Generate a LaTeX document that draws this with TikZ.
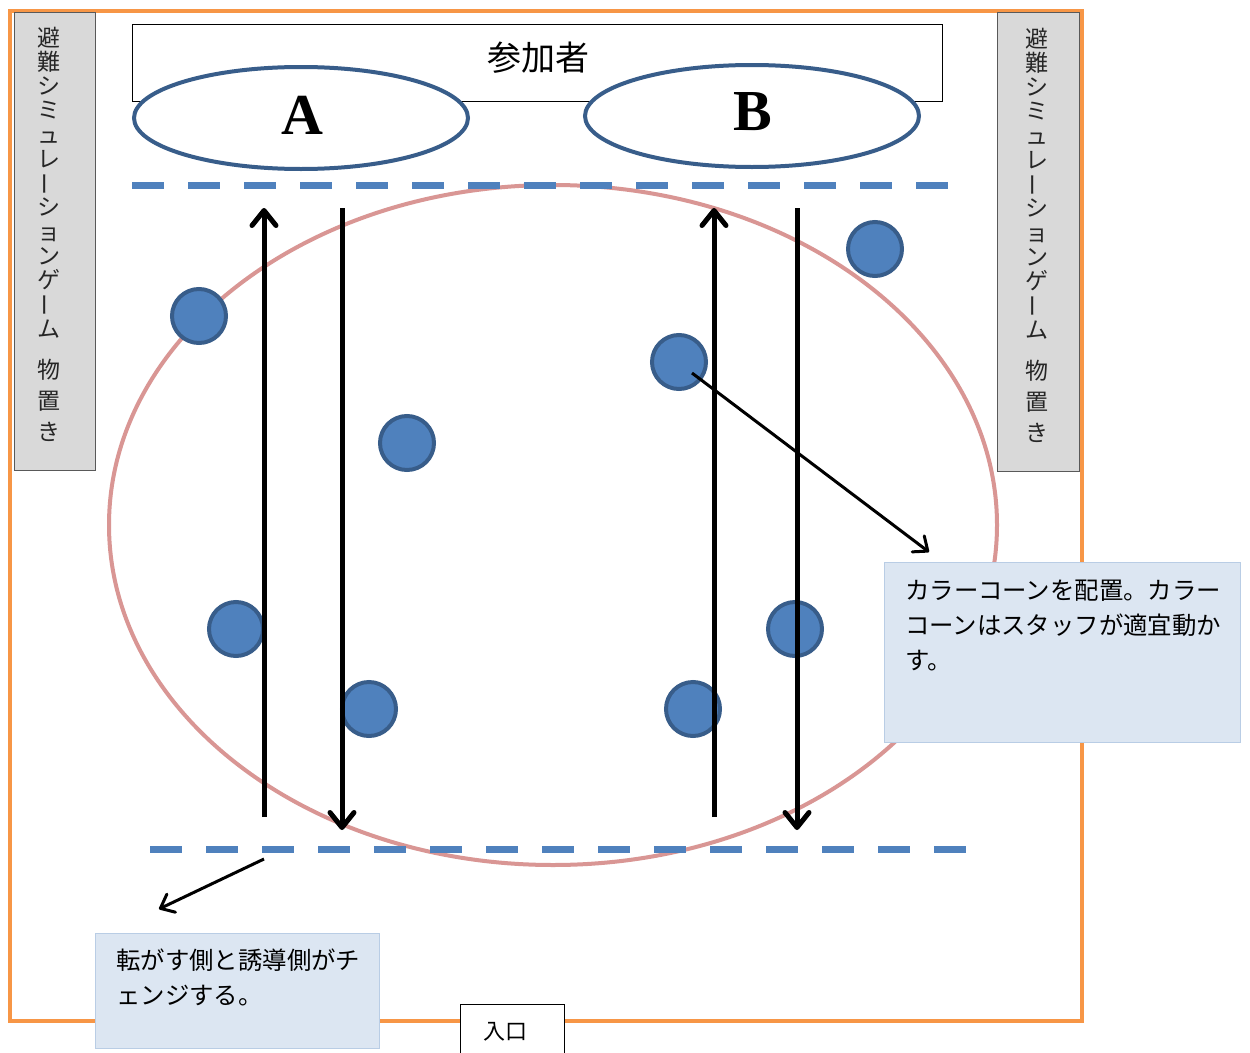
\documentclass[tikz,border=0pt]{standalone}
\usepackage{fontspec}
\usepackage{graphicx}
\usetikzlibrary{arrows.meta,shapes.geometric}
\newfontfamily\jpfont{Noto Sans CJK JP}
\newfontfamily\latinserif{Liberation Serif}
\definecolor{frameorange}{HTML}{F79646}
\definecolor{panelgrey}{HTML}{D9D9D9}
\definecolor{panelline}{HTML}{595959}
\definecolor{teamblue}{HTML}{385D8A}
\definecolor{coneblue}{HTML}{4F81BD}
\definecolor{fieldpink}{HTML}{D99694}
\definecolor{notefill}{HTML}{DCE6F2}
\definecolor{noteline}{HTML}{B9CDE5}
\newcommand\vchouon{\raisebox{0.12em}{\rotatebox[origin=c]{90}{ー}}}
\newcommand\storagelabel{避\\難\\シ\\ミ\\ュ\\レ\\\vchouon\\シ\\ョ\\ン\\ゲ\\\vchouon\\ム\\[16.75pt]物\\[6.75pt]置\\[6.75pt]き}
\begin{document}
\begin{tikzpicture}[x=1pt,y=-1pt,
  hallframe/.style={draw=frameorange,line width=4pt,inner sep=0},
  storepanel/.style={draw=panelline,fill=panelgrey,line width=1pt,inner sep=0},
  vtext/.style={font=\jpfont\fontsize{23}{24.25}\selectfont,align=center,inner sep=0,text=black!85,anchor=base},
  teamoval/.style={ellipse,draw=teamblue,fill=white,line width=4pt,minimum width=334pt,minimum height=102pt,inner sep=0},
  teamletter/.style={font=\latinserif\bfseries\fontsize{58}{58}\selectfont,inner sep=0},
  fieldoval/.style={ellipse,draw=fieldpink,line width=4pt,minimum width=888pt,minimum height=680pt,inner sep=0},
  conedot/.style={circle,draw=teamblue,fill=coneblue,line width=4pt,minimum size=54pt,inner sep=0},
  startline/.style={draw=coneblue,line width=7pt,dash pattern=on 32pt off 24pt},
  runarrow/.style={line width=5pt,-{Straight Barb[length=15pt,width=24pt,line cap=round,line join=round]}},
  notearrow/.style={line width=3pt,-{Straight Barb[length=12pt,width=20pt,line cap=round,line join=round]}},
  notebox/.style={draw=noteline,fill=notefill,line width=1pt,inner sep=0},
  notetext/.style={font=\jpfont\fontsize{24.4}{35}\selectfont,align=left,inner sep=0,anchor=base west},
  plainbox/.style={draw=black,fill=white,line width=0.8pt,inner sep=0}]
\useasboundingbox (0,0) rectangle (1250,1052);
\fill[white] (0,0) rectangle (1250,1052);

% hall outline
\node[hallframe,minimum width=1072pt,minimum height=1010pt] (hall) at (546,516) {};

% storage panels
\node[storepanel,minimum width=81pt,minimum height=458pt] (storeL) at (54.5,241) {};
\node[vtext] (storeLtext) at (49,440) {\storagelabel};
\node[storepanel,minimum width=82pt,minimum height=459pt] (storeR) at (1038,241.5) {};
\node[vtext] (storeRtext) at (1037,441) {\storagelabel};

% participants
\node[plainbox,minimum width=810pt,minimum height=77pt] (players) at (537,62.5) {};
\node[font=\jpfont\fontsize{34}{34}\selectfont,inner sep=0] (playerstext) at (538,58) {参加者};
\node[teamoval] (teamA) at (301,118) {};
\node[teamoval] (teamB) at (752,116) {};
\node[teamletter] (teamAlabel) at (302,115) {A};
\node[teamletter] (teamBlabel) at (753,112) {B};

% field
\node[fieldoval] (field) at (553,525) {};

% start / turn lines
\coordinate (topL) at (132,185);
\coordinate (topR) at (950,185);
\coordinate (botL) at (150,849);
\coordinate (botR) at (968,849);
\draw[startline] (topL) -- (topR);
\draw[startline] (botL) -- (botR);

% colour cones
\node[conedot] (c1) at (199,316) {};
\node[conedot] (c2) at (407,443) {};
\node[conedot] (c3) at (236,629) {};
\node[conedot] (c4) at (369,709) {};
\node[conedot] (c5) at (875,249) {};
\node[conedot] (c6) at (679,362) {};
\node[conedot] (c7) at (795,629) {};
\node[conedot] (c8) at (693,709) {};

% running arrows
\coordinate (a1s) at (264,817); \coordinate (a1e) at (264,208);
\coordinate (a2s) at (342,208); \coordinate (a2e) at (342,830);
\coordinate (a3s) at (714,817); \coordinate (a3e) at (714,208);
\coordinate (a4s) at (797,208); \coordinate (a4e) at (797,830);
\draw[runarrow] (a1s) -- (a1e);
\draw[runarrow] (a2s) -- (a2e);
\draw[runarrow] (a3s) -- (a3e);
\draw[runarrow] (a4s) -- (a4e);

% notes
\node[notebox,minimum width=356pt,minimum height=180pt] (noteR) at (1062,652) {};
\node[notetext] (noteRtext) at (905,669) {カラーコーンを配置。カラー\\コーンはスタッフが適宜動か\\す。};
\node[notebox,minimum width=284pt,minimum height=115pt] (noteL) at (237,990.5) {};
\node[notetext] (noteLtext) at (116,1004) {転がす側と誘導側がチ\\ェンジする。};

\coordinate (p1s) at (692,373); \coordinate (p1e) at (929,552);
\coordinate (p2s) at (264,859); \coordinate (p2e) at (159,909);
\draw[notearrow] (p1s) -- (p1e);
\draw[notearrow] (p2s) -- (p2e);

% entrance
\node[plainbox,minimum width=104pt,minimum height=58pt] (entrance) at (512,1033) {};
\node[font=\jpfont\fontsize{22}{22}\selectfont,inner sep=0] (entrancetext) at (505,1032) {入口};
\end{tikzpicture}
\end{document}
